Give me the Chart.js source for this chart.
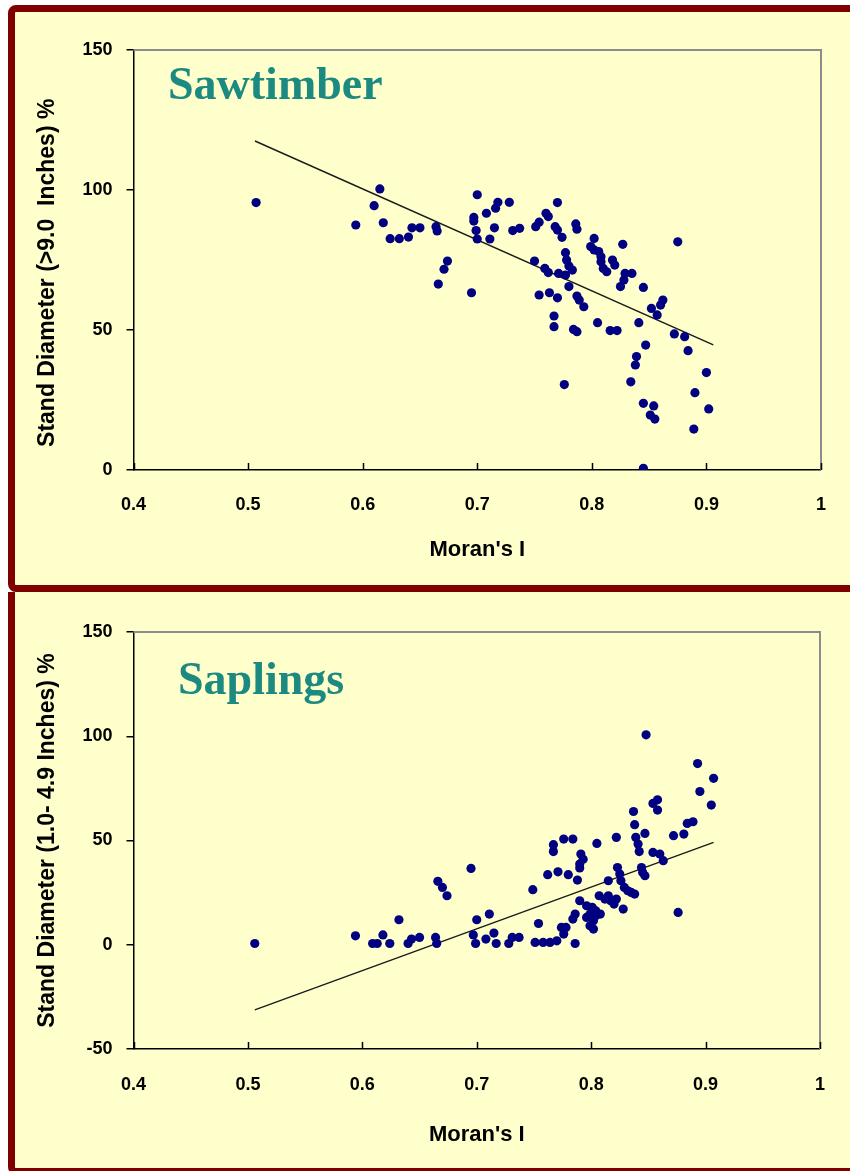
<!DOCTYPE html>
<html>
<head>
<meta charset="utf-8">
<script src="https://cdn.jsdelivr.net/npm/chart.js@4.4.1/dist/chart.umd.min.js"></script>
<style>
  body { margin: 0; background: #fff; position: relative; width: 850px; height: 1171px; overflow: hidden; }
  .panel { position: absolute; left: 8px; width: 900px; box-sizing: border-box; background: #ffffcc; border: 7px solid #800000; border-radius: 8px; }
  #p1 { top: 5px; height: 587px; }
  #p2 { top: 592px; height: 583px; border-top: 0; border-radius: 0 0 8px 8px; }
  canvas { position: absolute; left: 16px; }
  #c1 { top: 12px; }
  #c2 { top: 593px; }
  .ttl { position: absolute; font-family: 'Liberation Serif', 'Times New Roman', serif; font-weight: bold; font-size: 46px; line-height: 46px; color: #1d8a82; }
</style>
</head>
<body>
<div class="panel" id="p1"></div>
<div class="panel" id="p2"></div>
<canvas id="c1" width="834" height="573"></canvas>
<canvas id="c2" width="834" height="575"></canvas>
<div class="ttl" style="left:168px; top:61px;">Sawtimber</div>
<div class="ttl" style="left:178px; top:656px;">Saplings</div>
<script>
// Moran's I vs stand diameter %
var sawX = [0.507, 0.594, 0.610, 0.615, 0.618, 0.624, 0.632, 0.640, 0.643, 0.650,
  0.664, 0.665, 0.666, 0.671, 0.674, 0.695, 0.700, 0.697, 0.697, 0.699,
  0.700, 0.708, 0.711, 0.715, 0.716, 0.718, 0.728, 0.731, 0.737, 0.750,
  0.751, 0.754, 0.760, 0.762, 0.768, 0.770, 0.770, 0.774, 0.786, 0.787,
  0.759, 0.762, 0.771, 0.777, 0.777, 0.778, 0.780, 0.783, 0.780, 0.754,
  0.763, 0.770, 0.787, 0.789, 0.793, 0.767, 0.767, 0.784, 0.787, 0.776,
  0.802, 0.799, 0.802, 0.806, 0.808, 0.808, 0.810, 0.813, 0.818, 0.820,
  0.827, 0.829, 0.835, 0.828, 0.825, 0.845, 0.805, 0.816, 0.822, 0.841,
  0.852, 0.857, 0.862, 0.860, 0.875, 0.872, 0.881, 0.884, 0.847, 0.839,
  0.838, 0.834, 0.900, 0.890, 0.902, 0.889, 0.845, 0.854, 0.851, 0.855, 0.845];
var sawY = [95.5, 87.5, 94.4, 100.4, 88.3, 82.6, 82.6, 83.2, 86.5, 86.5,
  86.9, 85.4, 66.4, 71.7, 74.6, 63.3, 98.3, 90.2, 88.9, 85.5,
  82.5, 91.7, 82.5, 86.5, 93.5, 95.6, 95.6, 85.5, 86.3, 74.6,
  86.9, 88.5, 91.7, 90.5, 86.9, 85.7, 95.5, 83.1, 87.9, 86.0,
  72.0, 70.5, 70.2, 69.6, 77.6, 75.0, 72.9, 71.4, 65.5, 62.5,
  63.3, 61.5, 62.1, 60.7, 58.3, 55.0, 51.2, 50.2, 49.4, 30.5,
  82.7, 79.8, 78.6, 78.0, 76.2, 74.4, 72.0, 70.8, 75.0, 73.2,
  80.6, 70.2, 70.2, 67.9, 65.5, 65.2, 52.6, 49.8, 49.8, 52.6,
  57.7, 55.4, 60.7, 58.9, 81.5, 48.6, 47.6, 42.6, 44.6, 40.5,
  37.5, 31.5, 34.8, 27.6, 21.8, 14.6, 23.8, 22.9, 19.6, 18.2, 0.6];
var sawTrendX = [0.506, 0.906];
var sawTrendY = [117.5, 44.7];

var sapX = [0.506, 0.594, 0.609, 0.613, 0.618, 0.624, 0.632, 0.640, 0.643, 0.650,
  0.664, 0.665, 0.666, 0.670, 0.674, 0.695, 0.697, 0.699, 0.700, 0.708,
  0.711, 0.715, 0.717, 0.728, 0.731, 0.737, 0.749, 0.754, 0.751, 0.758,
  0.764, 0.770, 0.786, 0.762, 0.771, 0.767, 0.767, 0.776, 0.784, 0.780,
  0.788, 0.791, 0.793, 0.790, 0.790, 0.805, 0.822, 0.838, 0.839, 0.841,
  0.842, 0.847, 0.854, 0.860, 0.863, 0.872, 0.881, 0.884, 0.876, 0.823,
  0.825, 0.826, 0.844, 0.845, 0.847, 0.815, 0.829, 0.832, 0.835, 0.838,
  0.828, 0.817, 0.820, 0.822, 0.807, 0.812, 0.815, 0.790, 0.796, 0.801,
  0.804, 0.799, 0.796, 0.804, 0.808, 0.802, 0.799, 0.802, 0.786, 0.784,
  0.774, 0.778, 0.776, 0.848, 0.893, 0.907, 0.895, 0.905, 0.889, 0.837,
  0.854, 0.858, 0.858];
var sapY = [0.6, 4.3, 0.6, 0.6, 4.7, 0.6, 12.0, 0.6, 2.7, 3.5,
  3.5, 0.6, 30.4, 27.5, 23.5, 36.6, 4.7, 0.6, 12.0, 2.7,
  14.7, 5.6, 0.6, 0.6, 3.5, 3.5, 26.4, 10.2, 1.1, 1.1,
  1.1, 1.9, 0.6, 33.6, 35.0, 48.0, 44.7, 50.7, 50.7, 33.6,
  31.0, 43.5, 41.0, 38.7, 36.8, 48.6, 51.5, 57.6, 51.5, 48.3,
  44.7, 53.4, 44.3, 43.5, 40.3, 52.3, 53.1, 58.2, 15.5, 37.0,
  33.9, 30.7, 37.0, 34.7, 33.1, 30.7, 27.5, 25.9, 25.1, 24.3,
  17.1, 21.1, 19.5, 21.9, 23.5, 21.9, 23.5, 21.1, 18.7, 17.9,
  16.3, 14.7, 13.1, 13.9, 14.7, 11.5, 9.1, 7.5, 14.7, 12.3,
  8.3, 8.3, 5.1, 100.7, 86.9, 79.8, 73.5, 67.0, 59.0, 63.9,
  67.8, 69.5, 64.6];
var sapTrendX = [0.506, 0.907];
var sapTrendY = [-31.2, 49.1];

var xTicks = [0.4, 0.5, 0.6, 0.7, 0.8, 0.9, 1];

function pts(xs, ys) {
  return xs.map(function(x, i) { return {x: x, y: ys[i]}; });
}

var tickFont = { family: "'Liberation Sans', Arial, sans-serif", size: 18, weight: 'bold' };
var titleFont = { family: "'Liberation Sans', Arial, sans-serif", size: 22, weight: 'bold' };

// gray frame on top/right and the x ticks that point into the plot
var frame = {
  id: 'frame',
  afterDraw: function(chart) {
    var a = chart.chartArea, ctx = chart.ctx, xs = chart.scales.x;
    ctx.save();
    ctx.strokeStyle = '#8c8c8c';
    ctx.lineWidth = 2;
    ctx.beginPath();
    ctx.moveTo(a.left, a.top);
    ctx.lineTo(a.right, a.top);
    ctx.lineTo(a.right, a.bottom);
    ctx.stroke();
    ctx.strokeStyle = '#000';
    ctx.lineWidth = 1.5;
    ctx.beginPath();
    xTicks.forEach(function(v) {
      var px = Math.round(xs.getPixelForValue(v)) + 0.5;
      ctx.moveTo(px, a.bottom);
      ctx.lineTo(px, a.bottom - 7);
    });
    ctx.stroke();
    ctx.restore();
  }
};

function makeChart(id, xs, ys, tx, ty, yMin, yTitle, pad) {
  return new Chart(document.getElementById(id), {
    type: 'scatter',
    data: {
      datasets: [
        {
          data: pts(xs, ys),
          backgroundColor: '#000080',
          borderWidth: 0,
          pointRadius: 4.6,
          pointHoverRadius: 4.6
        },
        {
          data: pts(tx, ty),
          showLine: true,
          borderColor: '#1a1a1a',
          borderWidth: 1.4,
          pointRadius: 0,
          fill: false
        }
      ]
    },
    options: {
      responsive: false,
      animation: false,
      events: [],
      layout: { padding: { left: 0, top: pad.top, right: 28, bottom: 0 } },
      plugins: { legend: { display: false }, tooltip: { enabled: false } },
      scales: {
        x: {
          type: 'linear',
          min: 0.4, max: 1,
          afterBuildTicks: function(s) { s.ticks = xTicks.map(function(v) { return {value: v}; }); },
          afterFit: function(s) { s.height = pad.xh; },
          grid: { drawOnChartArea: false, drawTicks: false },
          border: { color: '#000', width: 1.5 },
          ticks: {
            color: '#000', font: tickFont, padding: pad.tick, maxRotation: 0,
            callback: function(v) { return String(+v.toFixed(1)); }
          },
          title: { display: true, text: "Moran's I", color: '#000', font: titleFont, padding: { top: 0, bottom: pad.title } }
        },
        y: {
          min: yMin, max: 150,
          ticks: { stepSize: 50, color: '#000', font: tickFont, padding: 14 },
          afterFit: function(s) { s.width = 117.5; },
          grid: { drawOnChartArea: false, drawTicks: true, tickLength: 7, color: '#000', lineWidth: 1.5 },
          border: { color: '#000', width: 1.5 },
          title: { display: true, text: yTitle, color: '#000', font: pad.yFont, padding: { top: 18, bottom: 0 } }
        }
      }
    },
    plugins: [frame]
  });
}

makeChart('c1', sawX, sawY, sawTrendX, sawTrendY, 0,
  'Stand Diameter (>9.0  Inches) %    ',
  { top: 38, xh: 115, tick: 24, title: 22,
    yFont: { family: "'Liberation Sans', Arial, sans-serif", size: 23, weight: 'bold' } });
makeChart('c2', sapX, sapY, sapTrendX, sapTrendY, -50,
  'Stand Diameter (1.0- 4.9 Inches) %',
  { top: 39, xh: 119, tick: 25, title: 20,
    yFont: { family: "'Liberation Sans', Arial, sans-serif", size: 23, weight: 'bold' } });
</script>
</body>
</html>
